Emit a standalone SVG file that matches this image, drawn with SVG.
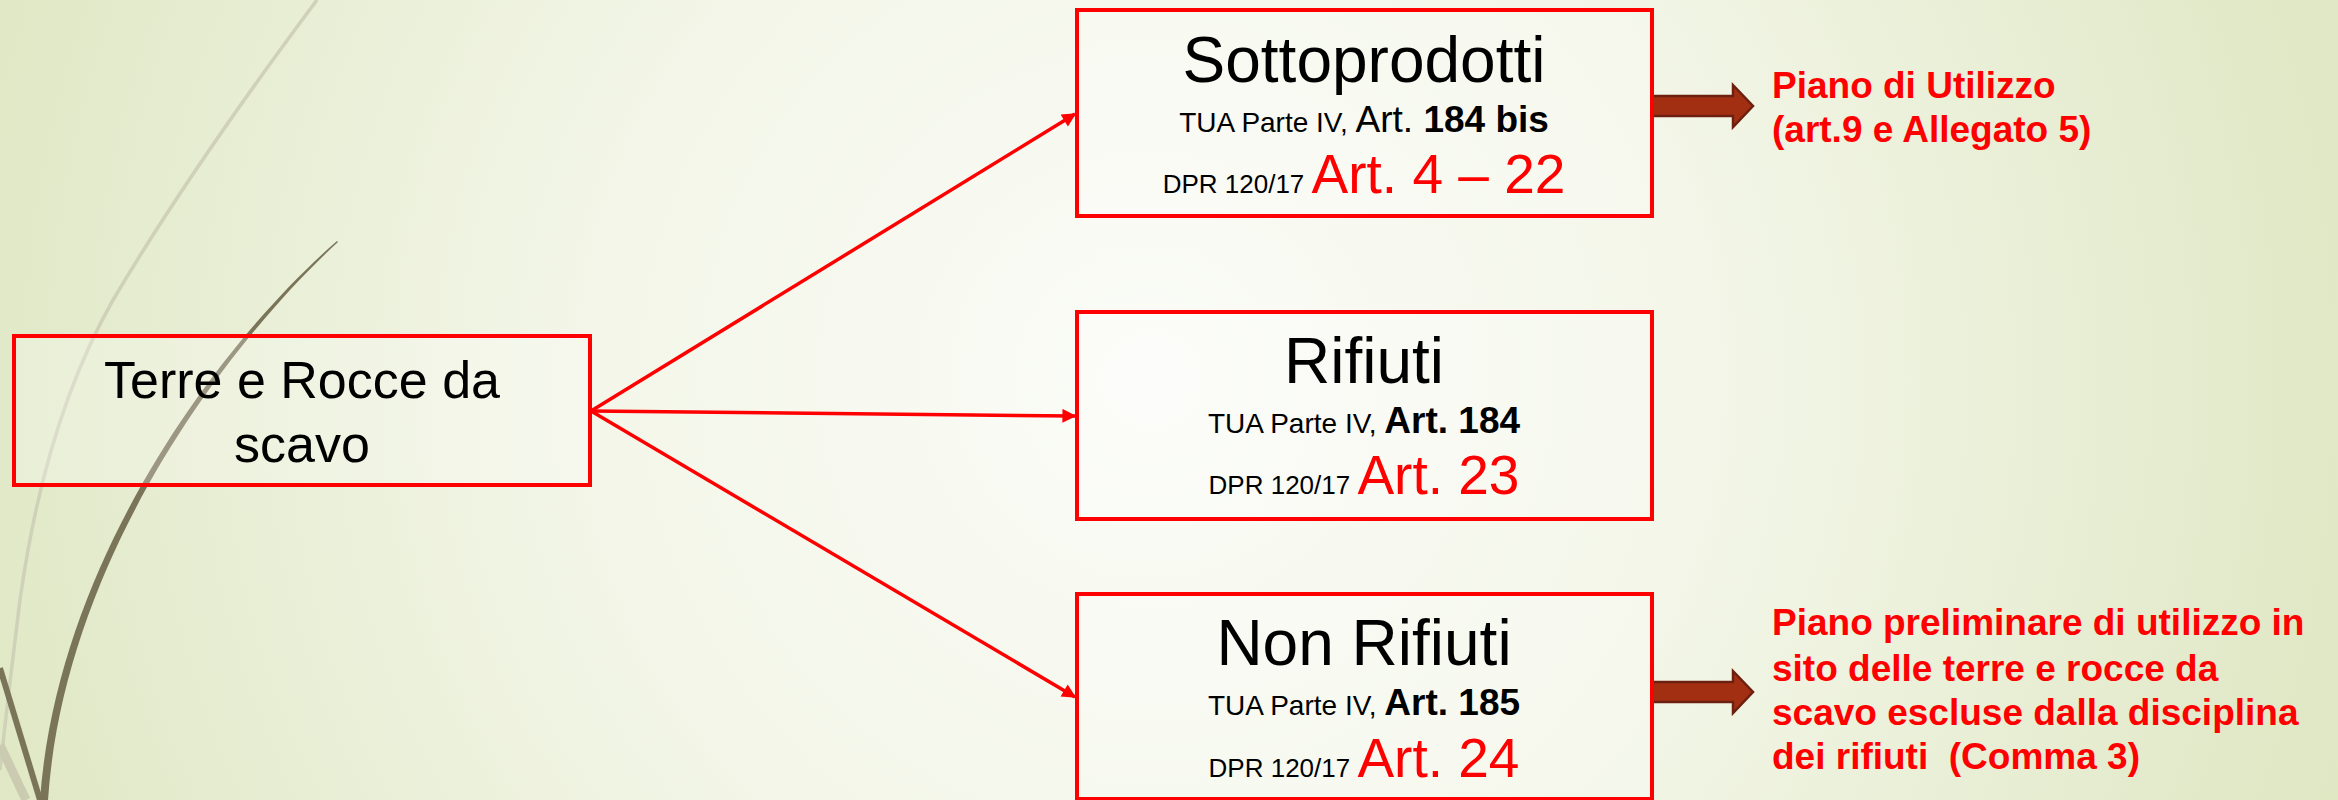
<svg xmlns="http://www.w3.org/2000/svg" width="2338" height="800" viewBox="0 0 2338 800">
  <defs>
    <radialGradient id="bg" gradientUnits="userSpaceOnUse" cx="1150" cy="380" r="1250">
      <stop offset="0" stop-color="#fbfcf8"/>
      <stop offset="0.45" stop-color="#f3f6e8"/>
      <stop offset="1" stop-color="#dfe7c3"/>
    </radialGradient>
    <marker id="tip" viewBox="0 0 10 10" refX="9" refY="5" markerWidth="5" markerHeight="4" markerUnits="strokeWidth" orient="auto">
      <path d="M0,0 L10,5 L0,10 Z" fill="#ff0000"/>
    </marker>
    <style>
      .box { fill: #ffffff; fill-opacity: 0.25; stroke: #ff0000; stroke-width: 4; }
      .link { fill: none; stroke: #ff0000; stroke-width: 3.5; marker-end: url(#tip); }
      .sans { font-family: "Liberation Sans", Arial, sans-serif; }
      .title { font-size: 64px; fill: #000000; }
      .ref { font-size: 28px; fill: #000000; }
      .art { font-size: 37px; fill: #000000; }
      .dpr { font-size: 26px; fill: #000000; }
      .big { font-size: 55px; fill: #ff0000; }
      .note { font-family: "Liberation Sans", Arial, sans-serif; font-weight: bold; font-size: 37px; fill: #ff0000; }
      .block { fill: #a32f12; stroke: #6e2010; stroke-width: 2.5; }
    </style>
  </defs>

  <!-- background -->
  <rect x="0" y="0" width="2338" height="800" fill="url(#bg)"/>

  <!-- decorative grass strokes -->
  <path d="M317,0 Q190,170 113,300 Q45,420 20,600 Q10,680 0,770" fill="none" stroke="#cfd1b8" stroke-width="3.5"/>
  <path d="M0,745 L26,800" fill="none" stroke="#cacbb0" stroke-width="9"/>
  <path d="M337,241 C220,343 57,560 40,800 L48,800 C64,562 224,347 338,242 Z" fill="#7a7459"/>
  <path d="M0,668 L40,800" fill="none" stroke="#7a7459" stroke-width="6"/>

  <!-- connectors -->
  <g id="connectors">
    <line class="link" x1="591" y1="411" x2="1075" y2="114"/>
    <line class="link" x1="591" y1="411" x2="1075" y2="416"/>
    <line class="link" x1="591" y1="411" x2="1075" y2="697"/>
    <path class="block" d="M1652,96 L1733,96 L1733,85 L1753,106 L1733,127 L1733,116 L1652,116 Z"/>
    <path class="block" d="M1652,682 L1733,682 L1733,671 L1753,692 L1733,713 L1733,702 L1652,702 Z"/>
  </g>

  <!-- source node -->
  <g id="terre-rocce">
    <rect class="box" x="14" y="336" width="576" height="149" fill-opacity="0"/>
    <text class="sans" x="302" y="398" text-anchor="middle" font-size="52" fill="#000000">Terre e Rocce da</text>
    <text class="sans" x="302" y="462" text-anchor="middle" font-size="52" fill="#000000">scavo</text>
  </g>

  <!-- by-products -->
  <g id="sottoprodotti">
    <rect class="box" x="1077" y="10" width="575" height="206"/>
    <text class="sans title" x="1364" y="82" text-anchor="middle">Sottoprodotti</text>
    <text class="sans" x="1364" y="132" text-anchor="middle"><tspan class="ref">TUA Parte IV, </tspan><tspan class="art">Art. </tspan><tspan class="art" font-weight="bold">184 bis</tspan></text>
    <text class="sans" x="1364" y="193" text-anchor="middle"><tspan class="dpr">DPR 120/17 </tspan><tspan class="big">Art. 4 – 22</tspan></text>
  </g>

  <!-- waste -->
  <g id="rifiuti">
    <rect class="box" x="1077" y="312" width="575" height="207"/>
    <text class="sans title" x="1364" y="383" text-anchor="middle">Rifiuti</text>
    <text class="sans" x="1364" y="433" text-anchor="middle"><tspan class="ref">TUA Parte IV, </tspan><tspan class="art" font-weight="bold">Art. 184</tspan></text>
    <text class="sans" x="1364" y="494" text-anchor="middle"><tspan class="dpr">DPR 120/17 </tspan><tspan class="big">Art. 23</tspan></text>
  </g>

  <!-- non-waste -->
  <g id="non-rifiuti">
    <rect class="box" x="1077" y="594" width="575" height="205"/>
    <text class="sans title" x="1364" y="665" text-anchor="middle">Non Rifiuti</text>
    <text class="sans" x="1364" y="715" text-anchor="middle"><tspan class="ref">TUA Parte IV, </tspan><tspan class="art" font-weight="bold">Art. 185</tspan></text>
    <text class="sans" x="1364" y="777" text-anchor="middle"><tspan class="dpr">DPR 120/17 </tspan><tspan class="big">Art. 24</tspan></text>
  </g>

  <!-- usage plan notes -->
  <g id="piano-utilizzo">
    <text class="note" x="1772" y="98">Piano di Utilizzo</text>
    <text class="note" x="1772" y="142">(art.9 e Allegato 5)</text>
  </g>
  <g id="piano-preliminare">
    <text class="note" x="1772" y="635">Piano preliminare di utilizzo in</text>
    <text class="note" x="1772" y="681">sito delle terre e rocce da</text>
    <text class="note" x="1772" y="725">scavo escluse dalla disciplina</text>
    <text class="note" x="1772" y="769" xml:space="preserve">dei rifiuti  (Comma 3)</text>
  </g>
</svg>
